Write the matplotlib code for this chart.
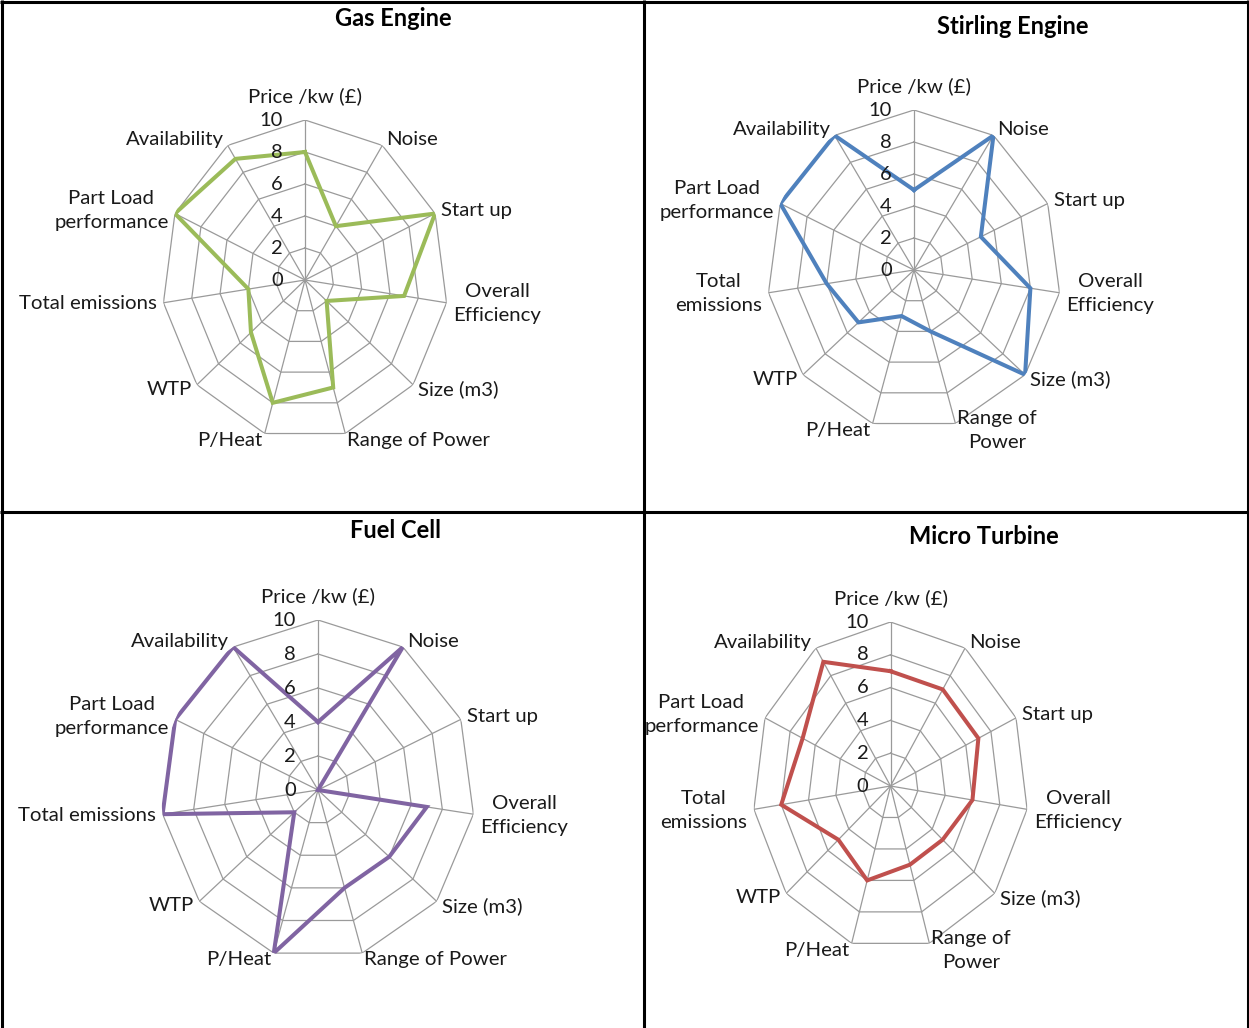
import numpy as np
import matplotlib
matplotlib.use("Agg")
import matplotlib.pyplot as plt
from matplotlib.lines import Line2D

plt.rcParams['font.family'] = ['Lato', 'DejaVu Sans']

# Criteria scored 0-10 for each micro CHP technology
categories = ["Price /kw (£)", "Noise", "Start up", "Overall Efficiency", "Size (m3)",
              "Range of Power", "P/Heat", "WTP", "Total emissions",
              "Part Load performance", "Availability"]

# axis labels as wrapped in the two chart widths
labels_wide = ["Price /kw (£)", "Noise", "Start up", "Overall\nEfficiency", "Size (m3)",
               "Range of Power", "P/Heat", "WTP", "Total emissions",
               "Part Load\nperformance", "Availability"]
labels_narrow = ["Price /kw (£)", "Noise", "Start up", "Overall\nEfficiency", "Size (m3)",
                 "Range of\nPower", "P/Heat", "WTP", "Total\nemissions",
                 "Part Load\nperformance", "Availability"]

gas_engine = [8, 4, 10, 7, 2, 7, 8, 5, 4, 10, 9]
stirling_engine = [5, 10, 5, 8, 10, 4, 3, 5, 6, 10, 10]
fuel_cell = [4, 10, 0, 7, 6, 6, 10, 2, 10, 10, 10]
micro_turbine = [7, 7, 7, 6, 5, 5, 6, 5, 8, 7, 9]

ticks = [0, 2, 4, 6, 8, 10]

W, H = 1249, 1028
fig = plt.figure(figsize=(W / 100, H / 100), dpi=100)

text_col = '#1a1a1a'
grid_col = '#9a9a9a'

# title, data, colour, labels, centre (px), x radius, y radius, title position (px)
charts = [
    ("Gas Engine", gas_engine, '#9bbb59', labels_wide, (305, 280), 143, 160, (393, 18)),
    ("Stirling Engine", stirling_engine, '#4f81bd', labels_narrow, (914, 270), 147, 160, (1013, 27)),
    ("Fuel Cell", fuel_cell, '#8064a2', labels_wide, (318, 790), 157, 170, (396, 531)),
    ("Micro Turbine", micro_turbine, '#c0504d', labels_narrow, (890.5, 786), 138, 164, (984, 537)),
]

n = len(categories)
theta = np.arange(n) * 2 * np.pi / n
theta_c = np.append(theta, theta[0])

for title, vals, col, labels, (cx, cy), rx, ry, (tx, ty) in charts:
    ax = fig.add_axes([(cx - rx) / W, 1 - (cy + ry) / H, 2 * rx / W, 2 * ry / H],
                      projection='polar')
    ax.set_aspect('auto')
    ax.set_theta_zero_location('N')
    ax.set_theta_direction(-1)
    ax.set_ylim(0, 10)
    ax.grid(False)
    ax.set_xticks([])
    ax.set_yticks([])
    ax.spines['polar'].set_visible(False)
    ax.patch.set_visible(False)

    # polygon rings and spokes
    for r in ticks[1:]:
        ax.plot(theta_c, [r] * (n + 1), color=grid_col, lw=0.9, zorder=1)
    for t in theta:
        ax.plot([t, t], [0, 10], color=grid_col, lw=0.9, zorder=1)

    v = list(vals) + [vals[0]]
    ax.plot(theta_c, v, color=col, lw=2.9, zorder=3, solid_joinstyle='miter')

    for r in ticks:
        ax.annotate(str(r), xy=(0, r), xytext=(-22, 0), textcoords='offset pixels',
                    ha='right', va='center', fontsize=14.5, color=text_col,
                    annotation_clip=False, zorder=4)

    for t, lab in zip(theta, labels):
        s, c = np.sin(t), np.cos(t)
        if abs(s) < 0.1:
            off = (0, 24)
            ha = 'center'
        else:
            off = (7 * s, 7 * c)
            ha = 'left' if s > 0 else 'right'
        ax.annotate(lab, xy=(t, 10), xytext=off, textcoords='offset pixels',
                    ha=ha, va='center', multialignment='center', fontsize=14.7,
                    color=text_col, annotation_clip=False, linespacing=1.5)

    fig.text(tx / W, 1 - ty / H, title, ha='center', va='center',
             fontsize=17, fontweight='bold', color='black')

# table borders around the four charts
border = dict(color='black', lw=2.2, transform=fig.transFigure, solid_capstyle='butt')
for xs, ys in [((0, 1), (1 - 1.5 / H, 1 - 1.5 / H)),
               ((1.5 / W, 1.5 / W), (0, 1)),
               ((1 - 1.5 / W, 1 - 1.5 / W), (0, 1)),
               ((644 / W, 644 / W), (0, 1)),
               ((0, 1), (1 - 512 / H, 1 - 512 / H))]:
    fig.add_artist(Line2D(xs, ys, **border))

fig.savefig("out.png", dpi=100, facecolor='white')
